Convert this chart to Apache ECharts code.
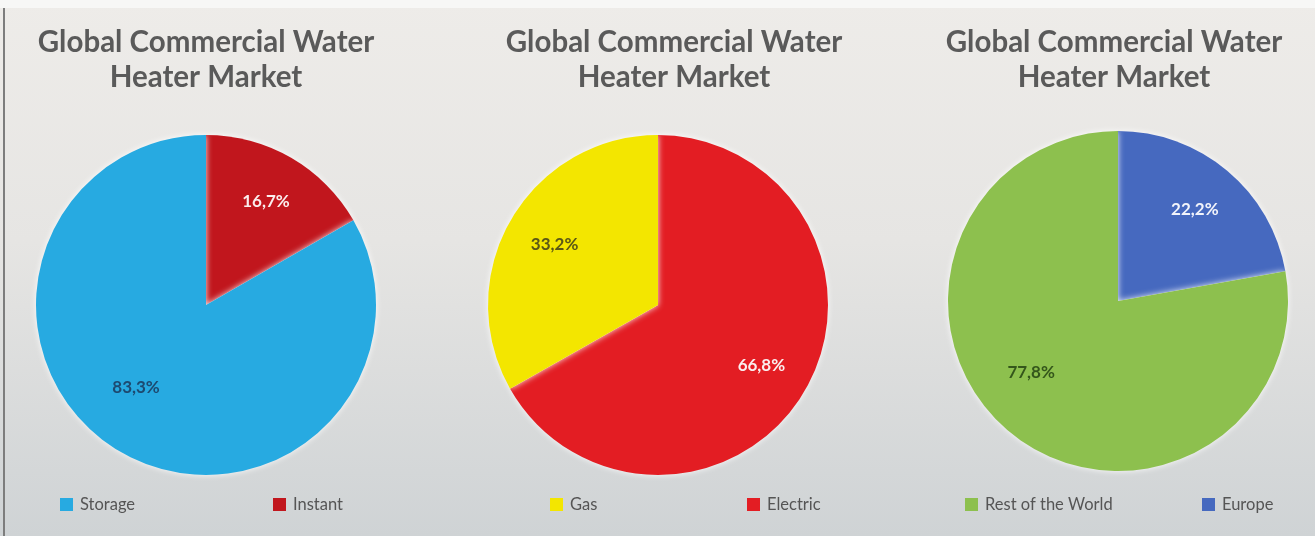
<!DOCTYPE html>
<html>
<head>
<meta charset="utf-8">
<title>Global Commercial Water Heater Market</title>
<script src="https://cdn.jsdelivr.net/npm/echarts@6/dist/echarts.min.js"></script>
<style>
  html, body { margin: 0; padding: 0; }
  #chart { width: 1315px; height: 536px; }
</style>
</head>
<body>
<div id="chart"></div>
<script>
// Three market splits, each listed clockwise from 12 o'clock
const titleText = 'Global Commercial Water\nHeater Market';

const typeNames = ['Instant', 'Storage'];
const typeShares = [16.7, 83.3];

const fuelNames = ['Electric', 'Gas'];
const fuelShares = [66.8, 33.2];

const regionNames = ['Europe', 'Rest of the World'];
const regionShares = [22.2, 77.8];

// Legend order shown under each pie
const typeLegend = ['Storage', 'Instant'];
const fuelLegend = ['Gas', 'Electric'];
const regionLegend = ['Rest of the World', 'Europe'];

const colors = {
  'Storage': '#27aae1', 'Instant': '#c1161d',
  'Gas': '#f3e600', 'Electric': '#e31d23',
  'Rest of the World': '#8dc04e', 'Europe': '#4669bf'
};
const labelColors = {
  'Storage': '#1d4a70', 'Instant': '#fbeeee',
  'Gas': '#5a5716', 'Electric': '#fbeeee',
  'Rest of the World': '#34561b', 'Europe': '#f2f4fb'
};

const RADIUS = 170;
const pies = [
  { names: typeNames, values: typeShares, legend: typeLegend, cx: 206, cy: 305, tx: 201, legendX: [55, 268] },
  { names: fuelNames, values: fuelShares, legend: fuelLegend, cx: 658, cy: 305, tx: 669, legendX: [545, 742] },
  { names: regionNames, values: regionShares, legend: regionLegend, cx: 1118, cy: 301, tx: 1109, legendX: [960, 1197] }
];

const fmt = v => v.toFixed(1).replace('.', ',') + '%';

const chart = echarts.init(document.getElementById('chart'));

const series = pies.map(p => ({
  type: 'pie',
  center: [p.cx, p.cy],
  radius: RADIUS,
  startAngle: 90,
  clockwise: true,
  silent: true,
  data: p.names.map((n, i) => ({
    name: n,
    value: p.values[i],
    itemStyle: { color: colors[n] },
    label: { color: labelColors[n] }
  })),
  itemStyle: {
    borderWidth: 0,
    shadowColor: 'rgba(255,255,255,0.9)',
    shadowBlur: 6
  },
  label: {
    show: true,
    position: 'inside',
    formatter: params => fmt(params.value),
    fontFamily: 'Lato, "Open Sans", sans-serif',
    fontWeight: 'bold',
    fontSize: 17
  },
  labelLine: { show: false },
  // move the inside labels out from half radius to about 0.68 of it,
  // lifting the big lower-left slices a little as the spreadsheet layout does
  labelLayout: params => {
    const r = params.labelRect;
    const lx = r.x + r.width / 2;
    const ly = r.y + r.height / 2;
    const ux = lx - p.cx, uy = ly - p.cy;
    const lower = ux < 0 && uy > 0;
    return {
      dx: ux * 0.36 - (lower ? 10 : 0),
      dy: uy * (lower ? 0.27 : 0.36) - (lower ? 14 : 0)
    };
  }
}));

const titles = pies.map(p => ({
  text: titleText,
  left: p.tx,
  top: 20,
  textAlign: 'center',
  textStyle: {
    fontFamily: 'Lato, "Open Sans", sans-serif',
    fontWeight: 'bold',
    fontSize: 29.5,
    lineHeight: 35,
    color: '#5a5a5a'
  }
}));

const legends = [];
pies.forEach(p => {
  p.legend.forEach((name, i) => {
    legends.push({
      data: [name],
      left: p.legendX[i],
      top: 491,
      icon: 'rect',
      itemWidth: 13,
      itemHeight: 13,
      itemGap: 10,
      selectedMode: false,
      textStyle: {
        fontFamily: 'Lato, "Open Sans", sans-serif',
        fontSize: 16.5,
        color: '#555555',
        padding: [0, 0, 0, 2]
      }
    });
  });
});

chart.setOption({
  animation: false,
  backgroundColor: {
    type: 'linear', x: 0, y: 0, x2: 0, y2: 1,
    colorStops: [
      { offset: 0, color: '#eeece9' },
      { offset: 0.45, color: '#e6e5e3' },
      { offset: 1, color: '#cfd3d5' }
    ]
  },
  graphic: [
    { type: 'rect', shape: { x: 0, y: 0, width: 1315, height: 8 }, style: { fill: '#f7f7f6' }, silent: true },
    { type: 'rect', shape: { x: 3, y: 8, width: 2, height: 528 }, style: { fill: '#7d7d7d' }, silent: true }
  ],
  title: titles,
  legend: legends,
  series: series
});
</script>
</body>
</html>
